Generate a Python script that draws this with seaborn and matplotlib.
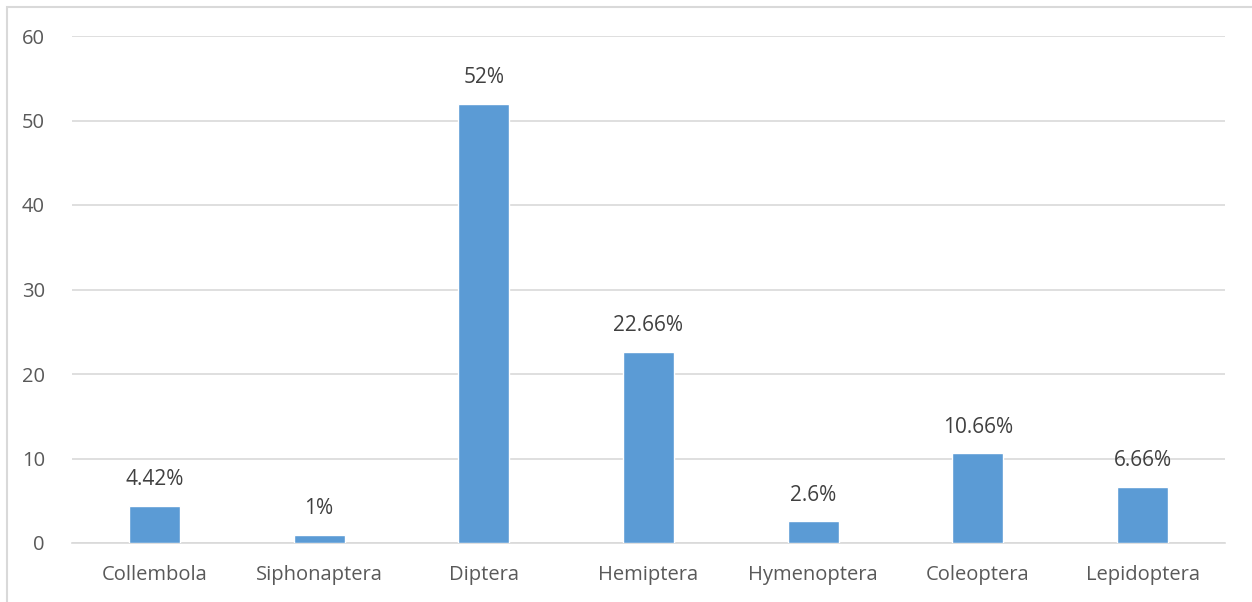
import matplotlib
matplotlib.use("Agg")
import matplotlib.pyplot as plt
import seaborn as sns
import pandas as pd

orders = ["Collembola", "Siphonaptera", "Diptera", "Hemiptera", "Hymenoptera", "Coleoptera", "Lepidoptera"]
shares = [4.42, 1, 52, 22.66, 2.6, 10.66, 6.66]
share_labels = ["4.42%", "1%", "52%", "22.66%", "2.6%", "10.66%", "6.66%"]
y_ticks = [0, 10, 20, 30, 40, 50, 60]

sns.set_theme(style="white")
plt.rcParams["font.family"] = ["Open Sans", "DejaVu Sans"]

df = pd.DataFrame({"order": orders, "share": shares})

fig = plt.figure(figsize=(12.52, 6.02), dpi=100)
ax = fig.add_axes([72 / 1252, 1 - 543 / 602, (1225 - 72) / 1252, (543 - 36) / 602])

sns.barplot(data=df, x="order", y="share", color="#5B9BD5", saturation=1,
            width=0.31, ax=ax, zorder=3)

ax.set_xlim(-0.5, len(orders) - 0.5)
ax.set_ylim(0, 60)
ax.set_yticks(y_ticks)
ax.yaxis.grid(True, color="#D9D9D9", linewidth=1.2, zorder=0)
ax.set_axisbelow(True)
for side in ["top", "right", "left"]:
    ax.spines[side].set_visible(False)
ax.spines["bottom"].set_color("#D9D9D9")
ax.spines["bottom"].set_linewidth(1.2)
ax.tick_params(axis="both", length=0, labelsize=14.5, colors="#595959")
ax.tick_params(axis="x", pad=16)
ax.tick_params(axis="y", pad=19.5)
ax.set_xlabel("")
ax.set_ylabel("")

for i, (v, lab) in enumerate(zip(shares, share_labels)):
    ax.annotate(lab, (i, v), xytext=(0, 11), textcoords="offset points",
                ha="center", va="bottom", fontsize=15, color="#404040")

# thin frame around the chart area
border = plt.Rectangle((7 / 1252, -0.02), 1.02, 1.02 - 7 / 602,
                       transform=fig.transFigure, fill=False,
                       edgecolor="#D9D9D9", linewidth=1.5)
fig.patches.append(border)

fig.savefig("out.png", dpi=100)
